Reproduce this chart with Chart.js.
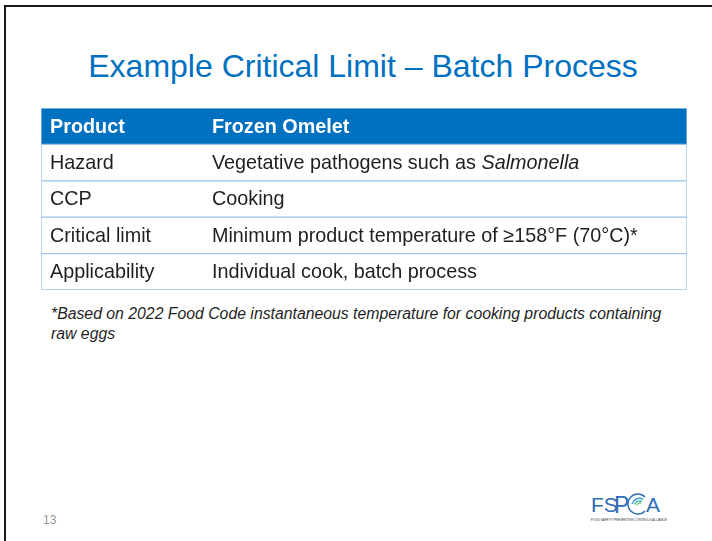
<!DOCTYPE html>
<html>
<head>
<meta charset="utf-8">
<script src="https://cdn.jsdelivr.net/npm/chart.js@4/dist/chart.umd.min.js"></script>
<style>
  html,body{margin:0;padding:0;background:#fff;width:712px;height:541px;overflow:hidden;font-family:"Liberation Sans",Arial,sans-serif;}
  #frameTop{position:absolute;left:4px;top:5px;width:720px;height:2px;background:#1a1a1a;}
  #frameLeft{position:absolute;left:4px;top:5px;width:2px;height:540px;background:#1a1a1a;}
  #title{position:absolute;left:0;top:46px;width:726px;text-align:center;font-size:32px;line-height:40px;color:#0070C0;white-space:nowrap;}
  #tableWrap{position:absolute;left:41px;top:108px;width:646px;height:182px;}
  #note{position:absolute;left:51px;top:304px;width:625px;font-size:15.8px;font-style:italic;color:#1f1f1f;line-height:19.5px;}
  #pagenum{position:absolute;left:43px;top:513px;font-size:12px;color:#959595;}
  #logo{position:absolute;left:585px;top:486px;}
</style>
</head>
<body>
<div id="frameTop"></div>
<div id="frameLeft"></div>
<div id="title">Example Critical Limit – Batch Process</div>
<div id="tableWrap"><canvas id="c" width="646" height="182"></canvas></div>
<div id="note">*Based on 2022 Food Code instantaneous temperature for cooking products containing raw eggs</div>
<div id="pagenum">13</div>
<svg id="logo" width="90" height="42" viewBox="0 0 90 42">
  <text x="6" y="26" font-family="Liberation Sans, Arial" font-size="21" fill="#2F6DB5">FS</text>
  <text x="29" y="27" font-family="Liberation Sans, Arial" font-size="23" fill="#2F6DB5">P</text>
  <g fill="none" stroke-width="1.4">
    <path d="M60 11 A10 10 0 1 0 60 25" stroke="#2F6DB5"/>
    <path d="M58 13 A8 8 0 0 0 47 18" stroke="#3a9ad9"/>
    <path d="M57 15.5 A5.5 5.5 0 0 0 49.5 18.5" stroke="#3cb8b0"/>
    <path d="M56 17.5 A3 3 0 0 0 52 19" stroke="#7cc576"/>
  </g>
  <text x="61" y="26" font-family="Liberation Sans, Arial" font-size="21" fill="#2F6DB5">A</text>
  <text x="6" y="35" font-family="Liberation Sans, Arial" font-size="3.1" fill="#333">FOOD SAFETY PREVENTIVE CONTROLS ALLIANCE</text>
</svg>
<script>
// ---- data ----
const rowLabels = ["Product", "Hazard", "CCP", "Critical limit", "Applicability"];
const rowValues = [
  "Frozen Omelet",
  "Vegetative pathogens such as Salmonella",
  "Cooking",
  "Minimum product temperature of \u2265158\u00B0F (70\u00B0C)*",
  "Individual cook, batch process"
];
const italicTerms = ["Salmonella"];
const cellSpan = [1, 1, 1, 1, 1];

const headerBlue = "#0070C0";
const lineBlue = "#9DC3E6";
const textDark = "#1f1f1f";
const FONT = '"Liberation Sans", Arial, sans-serif';

function drawRich(ctx, text, x, y, size, weight, color) {
  let parts = [{t: text, it: false}];
  italicTerms.forEach(term => {
    const next = [];
    parts.forEach(p => {
      if (p.it) { next.push(p); return; }
      const segs = p.t.split(term);
      segs.forEach((s, i) => {
        if (s) next.push({t: s, it: false});
        if (i < segs.length - 1) next.push({t: term, it: true});
      });
    });
    parts = next;
  });
  let cx = x;
  ctx.fillStyle = color;
  parts.forEach(p => {
    ctx.font = (p.it ? "italic " : "") + weight + " " + size + "px " + FONT;
    ctx.fillText(p.t, cx, y);
    cx += ctx.measureText(p.t).width;
  });
}

const tableText = {
  id: "tableText",
  afterDatasetsDraw(chart) {
    const ctx = chart.ctx;
    const meta = chart.getDatasetMeta(0);
    const xs = chart.scales.x;
    ctx.save();
    ctx.textBaseline = "middle";
    meta.data.forEach((bar, i) => {
      const header = i === 0;
      const col = header ? "#ffffff" : textDark;
      const w = header ? "bold" : "normal";
      const left = xs.getPixelForValue(0);
      drawRich(ctx, rowLabels[i], left + 9, bar.y + 1, 19.8, w, col);
      drawRich(ctx, rowValues[i], left + 171, bar.y + 1, 19.8, w, col);
    });
    ctx.restore();
  }
};

new Chart(document.getElementById("c"), {
  type: "bar",
  data: {
    labels: rowLabels,
    datasets: [{
      data: cellSpan,
      backgroundColor: rowLabels.map((_, i) => i === 0 ? headerBlue : "#ffffff"),
      borderColor: lineBlue,
      borderWidth: 1,
      borderSkipped: false,
      categoryPercentage: 1,
      barPercentage: 1
    }]
  },
  options: {
    indexAxis: "y",
    responsive: false,
    animation: false,
    layout: {padding: 0},
    plugins: {legend: {display: false}, tooltip: {enabled: false}},
    scales: {
      x: {display: false, min: 0, max: 1},
      y: {display: false}
    }
  },
  plugins: [tableText]
});
</script>
</body>
</html>
